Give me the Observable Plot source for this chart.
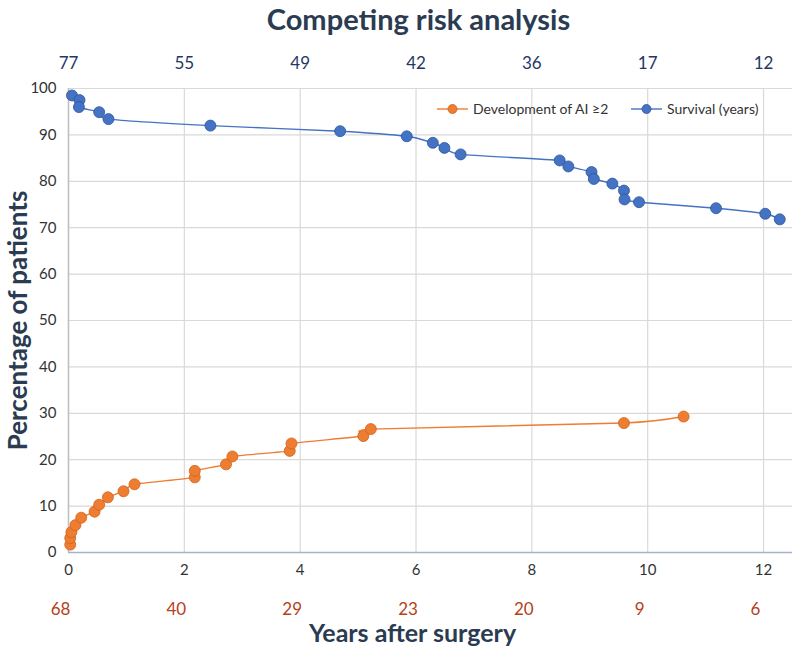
<!DOCTYPE html>
<html>
<head>
<meta charset="utf-8">
<script src="https://cdn.jsdelivr.net/npm/d3@7"></script>
<script src="https://cdn.jsdelivr.net/npm/@observablehq/plot@0.6"></script>
<style>
  html, body { margin: 0; padding: 0; background: #fff; }
  svg { display: block; }
</style>
</head>
<body>
<div id="chart"></div>
<script>
// Years after surgery
const aiYears = [0.03, 0.03, 0.05, 0.12, 0.22, 0.45, 0.53, 0.68, 0.95, 1.14, 2.18, 2.18, 2.72, 2.83, 3.82, 3.85, 5.09, 5.22, 9.59, 10.62];
const aiValues = [1.7, 3.1, 4.4, 5.9, 7.5, 8.8, 10.3, 11.9, 13.2, 14.7, 16.2, 17.6, 19.0, 20.7, 21.9, 23.5, 25.1, 26.6, 27.9, 29.3];

const survYears = [0.06, 0.19, 0.18, 0.53, 0.69, 2.45, 4.69, 5.84, 6.29, 6.49, 6.77, 8.48, 8.63, 9.03, 9.07, 9.39, 9.59, 9.60, 9.85, 11.18, 12.03, 12.28];
const survValues = [98.5, 97.5, 96.0, 94.9, 93.4, 92.0, 90.8, 89.7, 88.3, 87.2, 85.8, 84.5, 83.2, 82.0, 80.5, 79.5, 78.0, 76.1, 75.5, 74.2, 73.0, 71.8];

const xTicks = [0, 2, 4, 6, 8, 10, 12];
const topNumbers = ["77", "55", "49", "42", "36", "17", "12"];     // survival at risk
const bottomNumbers = ["68", "40", "29", "23", "20", "9", "6"];    // AI at risk
const yTicks = [0, 10, 20, 30, 40, 50, 60, 70, 80, 90, 100];

const seriesNames = ["Development of AI \u22652", "Survival (years)"];
const seriesColors = ["#ED7D31", "#4472C4"];
const seriesStrokes = ["#D0621A", "#2F5597"];

const ai = aiYears.map((x, i) => ({x, y: aiValues[i]}));
const surv = survYears.map((x, i) => ({x, y: survValues[i]}));
const ticks = xTicks.map((x, i) => ({x, top: topNumbers[i], bottom: bottomNumbers[i]}));

const font = "Lato, 'Open Sans', sans-serif";

const chart = Plot.plot({
  width: 800,
  height: 652,
  marginLeft: 68,
  marginRight: 8,
  marginTop: 88,
  marginBottom: 100,
  style: {fontFamily: font, background: "#fff", overflow: "visible"},
  x: {domain: [0, 12.5], ticks: xTicks, label: null},
  y: {domain: [0, 100], ticks: yTicks, label: null},
  marks: [
    Plot.gridX(xTicks, {stroke: "#d9d9d9", strokeOpacity: 1, strokeWidth: 1.2}),
    Plot.gridY(yTicks, {stroke: "#d9d9d9", strokeOpacity: 1, strokeWidth: 1.2}),
    Plot.ruleX([0], {stroke: "#bfbfbf", strokeWidth: 1.5}),
    Plot.ruleY([0], {stroke: "#a6b3c6", strokeWidth: 1.5}),
    Plot.axisX(xTicks, {tickSize: 0, tickPadding: 12, fontSize: 15, fill: "#333", tickFormat: d => d}),
    Plot.axisY(yTicks, {tickSize: 0, tickPadding: 12, fontSize: 15, fill: "#333"}),
    // at-risk numbers
    Plot.text(ticks, {x: "x", text: "top", frameAnchor: "top", dy: -32, fontSize: 17, fill: "#1F3864"}),
    Plot.text(ticks, {x: "x", text: "bottom", frameAnchor: "bottom", dy: 62, dx: -8, fontSize: 17, fill: "#B5401A"}),
    // series
    Plot.line(ai, {x: "x", y: "y", stroke: seriesColors[0], strokeWidth: 1.4, curve: "cardinal", tension: 0.4}),
    Plot.dot(ai, {x: "x", y: "y", r: 5.5, fill: seriesColors[0], stroke: seriesStrokes[0], strokeWidth: 0.8}),
    Plot.line(surv, {x: "x", y: "y", stroke: seriesColors[1], strokeWidth: 1.4, curve: "cardinal", tension: 0.4}),
    Plot.dot(surv, {x: "x", y: "y", r: 5.5, fill: seriesColors[1], stroke: seriesStrokes[1], strokeWidth: 0.8}),
    // titles
    Plot.text(["Competing risk analysis"], {frameAnchor: "top", dy: -79, dx: -12, fontSize: 29, fontWeight: "bold", fill: "#2A3B52"}),
    Plot.text(["Years after surgery"], {frameAnchor: "bottom", dy: 89, dx: -18, fontSize: 25, fontWeight: "bold", fill: "#2A3B52"}),
    Plot.text(["Percentage of patients"], {frameAnchor: "left", dx: -50, rotate: -90, textAnchor: "middle", fontSize: 26, fontWeight: "bold", fill: "#2A3B52"}),
  ]
});

// Legend inside plot area (top right)
const svg = d3.select(chart);
const lg = svg.append("g").attr("font-family", font).attr("font-size", 14).attr("fill", "#333").attr("text-anchor", "start");
const legendItems = [
  {name: seriesNames[0], color: seriesColors[0], stroke: seriesStrokes[0], x: 437},
  {name: seriesNames[1], color: seriesColors[1], stroke: seriesStrokes[1], x: 631}
];
legendItems.forEach(it => {
  const g = lg.append("g").attr("transform", `translate(${it.x},109)`);
  g.append("line").attr("x1", 0).attr("x2", 31).attr("y1", 0).attr("y2", 0).attr("stroke", it.color).attr("stroke-width", 1.4);
  g.append("circle").attr("cx", 15.5).attr("cy", 0).attr("r", 4.5).attr("fill", it.color).attr("stroke", it.stroke).attr("stroke-width", 0.8);
  g.append("text").attr("x", 36).attr("y", 0).attr("dy", "0.35em").attr("text-anchor", "start").text(it.name);
});

document.getElementById("chart").appendChild(chart);
</script>
</body>
</html>
